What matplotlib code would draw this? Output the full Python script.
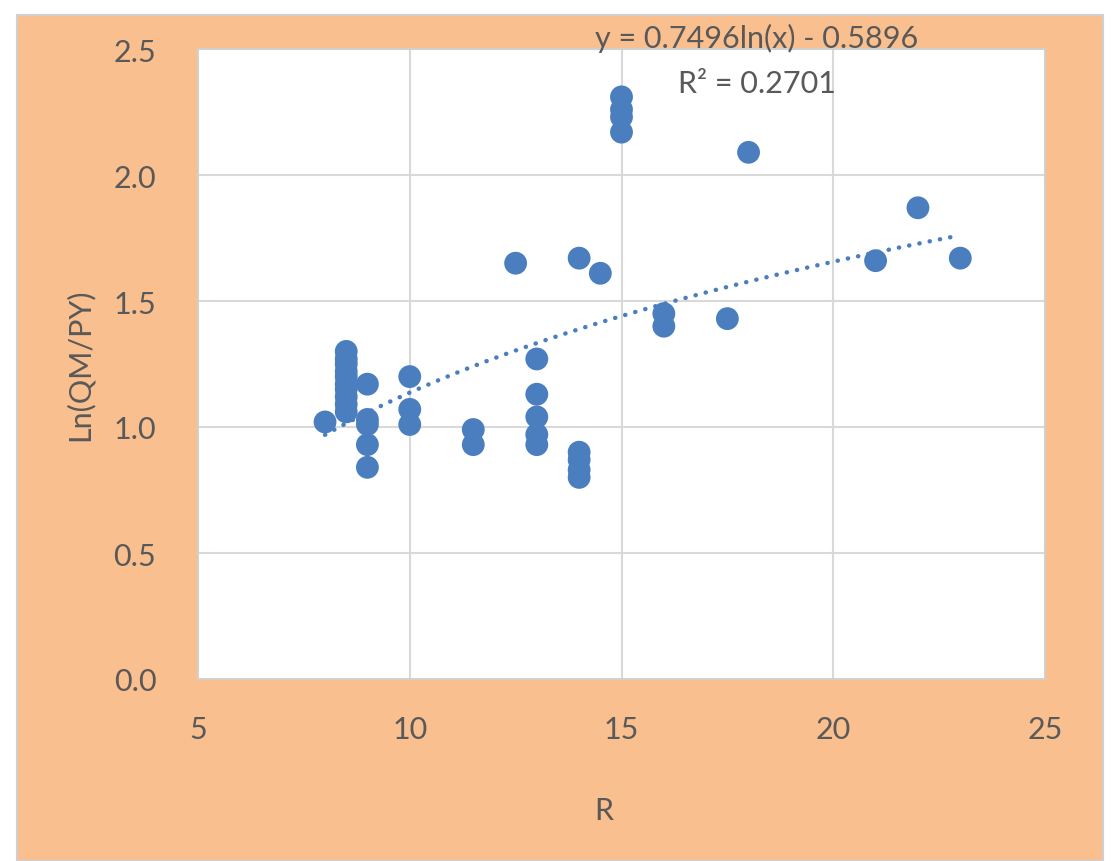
import numpy as np
import matplotlib
matplotlib.use("Agg")
import matplotlib.pyplot as plt
from matplotlib.patches import Rectangle

# Data
r_values = [8.0,
            8.5, 8.5, 8.5, 8.5, 8.5, 8.5, 8.5, 8.5, 8.5, 8.5,
            9.0, 9.0, 9.0, 9.0, 9.0,
            10.0, 10.0, 10.0,
            11.5, 11.5,
            12.5,
            13.0, 13.0, 13.0, 13.0, 13.0,
            14.0, 14.0, 14.0, 14.0, 14.0,
            14.5,
            15.0, 15.0, 15.0, 15.0,
            16.0, 16.0,
            17.5,
            18.0,
            21.0,
            22.0,
            23.0]
ln_qm_py = [1.02,
            1.30, 1.27, 1.25, 1.22, 1.20, 1.17, 1.15, 1.12, 1.09, 1.06,
            1.17, 1.03, 1.01, 0.93, 0.84,
            1.20, 1.07, 1.01,
            0.99, 0.93,
            1.65,
            1.27, 1.13, 1.04, 0.97, 0.93,
            1.67, 0.90, 0.87, 0.83, 0.80,
            1.61,
            2.31, 2.26, 2.23, 2.17,
            1.45, 1.40,
            1.43,
            2.09,
            1.66,
            1.87,
            1.67]
trend_a = 0.7496
trend_b = -0.5896
r_squared = 0.2701
x_ticks = [5, 10, 15, 20, 25]
y_ticks = [0.0, 0.5, 1.0, 1.5, 2.0, 2.5]

font = ['Lato', 'DejaVu Sans']
plt.rcParams['font.family'] = font
text_color = '#595959'
blue = '#4A7EBF'
orange = '#F9BF8F'

fig = plt.figure(figsize=(11.19, 8.62), dpi=100)
fig.patch.set_facecolor('white')
W, H = 1119, 862
bg = Rectangle((17 / W, 0), (1103 - 17) / W, (862 - 16) / H,
               transform=fig.transFigure, facecolor=orange,
               edgecolor='#D0D0D0', linewidth=1.5, zorder=-10)
fig.patches.append(bg)

ax = fig.add_axes([198 / W, (H - 680) / H, (1045 - 198) / W, (680 - 50) / H])
ax.set_facecolor('white')

ax.scatter(r_values, ln_qm_py, s=270, color=blue, edgecolors='none', zorder=3)

xs = np.linspace(min(r_values), max(r_values), 200)
ax.plot(xs, trend_a * np.log(xs) + trend_b, color=blue, lw=3.2,
        linestyle=(0, (0.05, 2.3)), dash_capstyle='round', zorder=2)

ax.set_xlim(5, 25)
ax.set_ylim(0, 2.5)
ax.set_xticks(x_ticks)
ax.set_yticks(y_ticks)
ax.set_xticklabels([str(t) for t in x_ticks])
ax.set_yticklabels([f"{t:.1f}" for t in y_ticks])
ax.tick_params(axis='both', length=0, labelsize=22, colors=text_color)
ax.tick_params(axis='x', pad=26)
ax.tick_params(axis='y', pad=30)
ax.grid(True, color='#D9D9D9', lw=1.5, zorder=0)
ax.set_axisbelow(True)
for s in ax.spines.values():
    s.set_color('#D0D0D0')
    s.set_linewidth(1.2)

ax.set_xlabel('R', fontsize=22, color=text_color)
ax.xaxis.set_label_coords((604 - 198) / (1045 - 198), -(797 - 680) / (680 - 50))
ax.set_ylabel('Ln(QM/PY)', fontsize=22, color=text_color, labelpad=14)

eq = f"y = {trend_a:.4f}ln(x) - {abs(trend_b):.4f}"
fig.text(757 / W, (H - 38) / H, eq, fontsize=22, color=text_color,
         ha='center', va='center')
fig.text(757 / W, (H - 84) / H, f"R² = {r_squared:.4f}", fontsize=22,
         color=text_color, ha='center', va='center')

fig.savefig('out.png', dpi=100)
